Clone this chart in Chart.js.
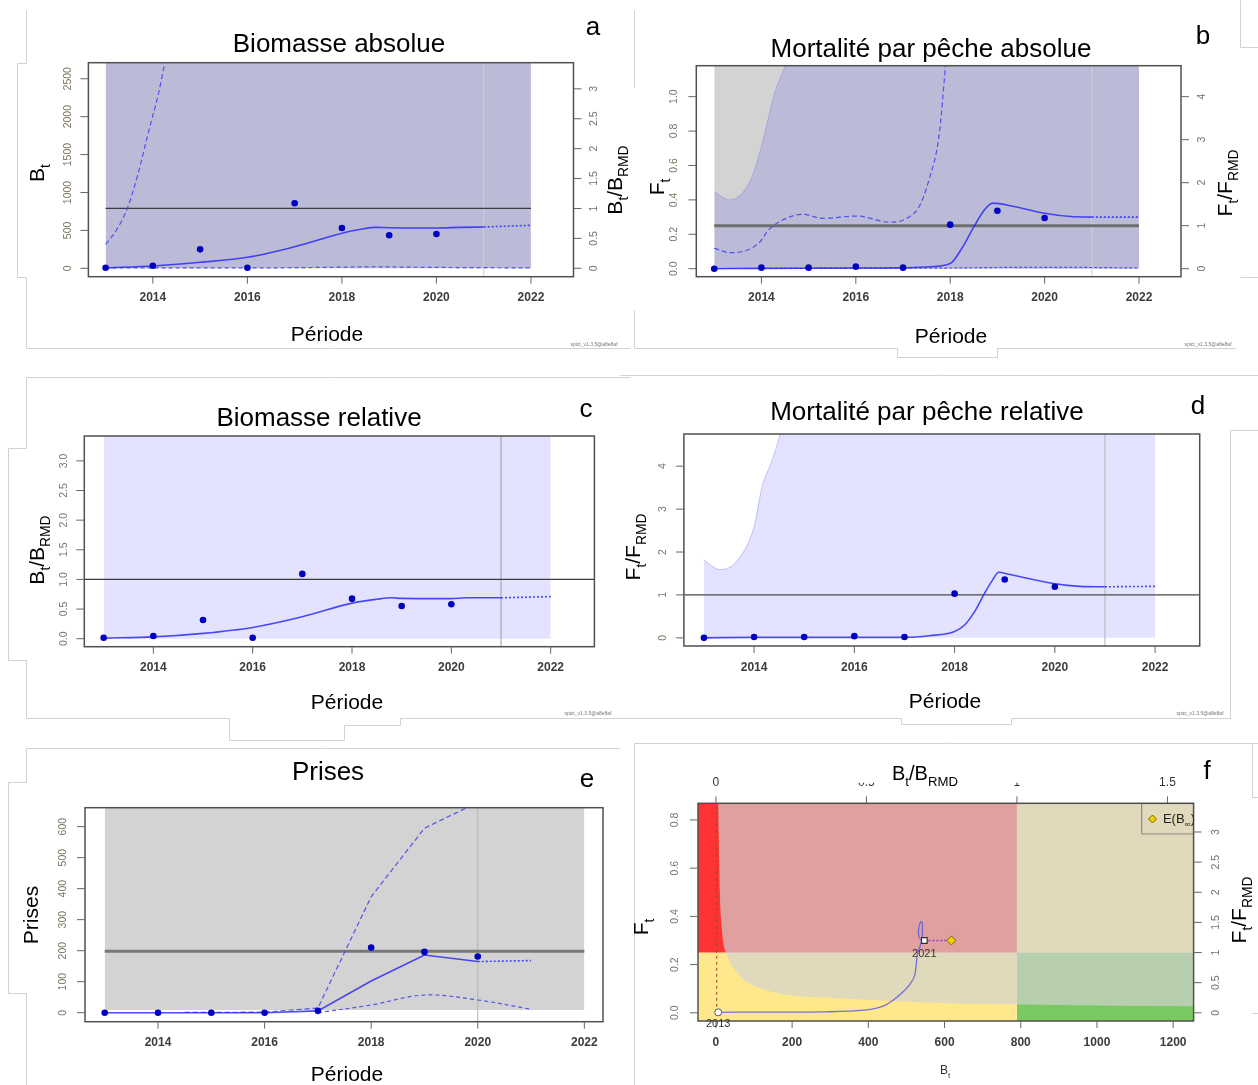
<!DOCTYPE html>
<html lang="fr"><head><meta charset="utf-8"><title>SPiCT</title>
<script src="https://cdn.jsdelivr.net/npm/chart.js@4.4.1/dist/chart.umd.min.js"></script>
<style>
html,body{margin:0;padding:0;background:#fff;}
#wrap{position:relative;width:1258px;height:1085px;overflow:hidden;background:#fff;}
#wrap canvas{position:absolute;left:0;top:0;width:1258px;height:1085px;}
</style></head>
<body><div id="wrap">
<canvas id="pa" width="1258" height="1085"></canvas>
<canvas id="pb" width="1258" height="1085"></canvas>
<canvas id="pc" width="1258" height="1085"></canvas>
<canvas id="pd" width="1258" height="1085"></canvas>
<canvas id="pe" width="1258" height="1085"></canvas>
<canvas id="pf" width="1258" height="1085"></canvas>
</div>
<script>
// ================= DATA =================
const obsYears = [2013, 2014, 2015, 2016, 2017, 2018, 2019, 2020];
const yearTicks = [2014, 2016, 2018, 2020, 2022];
const bandYears = [2013, 2022];

// a) Biomasse absolue
const bioObs = [8, 33, 250, 8, 857, 532, 435, 452];
const bioEstYears = [2013, 2014, 2015, 2016, 2017, 2018, 2018.4, 2018.7, 2019, 2020, 2020.5, 2021];
const bioEst = [8, 30, 79, 145, 285, 462, 514, 540, 535, 532, 540, 545];
const bioProjYears = [2021, 2022];
const bioProj = [545, 567];
const bioUpYears = [2013, 2013.23, 2013.46, 2013.69, 2013.9, 2014.12, 2014.25, 2014.35];
const bioUp = [316, 505, 791, 1253, 1781, 2309, 2705, 3000];
const bioLoYears = [2013, 2014, 2015, 2016, 2017, 2018, 2018.7, 2019.5, 2021, 2022];
const bioLo = [3, 5, 5, 5, 8, 15, 20, 14, 8, 5];
const bioRMD = 789;
const bioTicks = [0, 500, 1000, 1500, 2000, 2500];
const bioRelTicks = [0, 0.5, 1, 1.5, 2, 2.5, 3];

// b) Mortalité par pêche absolue
const fObs = [0.0, 0.006, 0.006, 0.012, 0.006, 0.256, 0.337, 0.295];
const fEstYears = [2013, 2014, 2015, 2016, 2017, 2017.5, 2018, 2018.25, 2018.5, 2018.72, 2018.9, 2019.35, 2020, 2020.55, 2021];
const fEst = [0.0, 0.002, 0.003, 0.004, 0.005, 0.01, 0.03, 0.12, 0.243, 0.34, 0.381, 0.362, 0.322, 0.303, 0.30];
const fProjYears = [2021, 2022];
const fProj = [0.30, 0.30];
const fUpYears = [2013, 2013.34, 2013.94, 2014.15, 2014.45, 2014.87, 2015.3, 2016.02, 2016.74, 2017.08, 2017.34, 2017.55, 2017.77, 2017.9, 2017.95];
const fUp = [0.118, 0.093, 0.147, 0.225, 0.283, 0.316, 0.293, 0.306, 0.27, 0.293, 0.36, 0.516, 0.787, 1.18, 1.35];
const fLoYears = [2013, 2016, 2018, 2019, 2020, 2021, 2022];
const fLo = [0.001, 0.002, 0.004, 0.007, 0.008, 0.007, 0.004];
const fBandYears = [2013, 2013.33, 2013.77, 2014, 2014.28, 2014.5, 2014.62, 2022];
const fBand = [0.448, 0.40, 0.515, 0.71, 1.02, 1.18, 1.3, 1.3];
const fRMD = 0.25;
const fTicks = [0, 0.2, 0.4, 0.6, 0.8, 1.0];
const fRelTicks = [0, 1, 2, 3, 4];

// c) Biomasse relative
const brObs = [0.017, 0.045, 0.316, 0.017, 1.093, 0.676, 0.552, 0.581];
const brEstYears = [2013, 2014, 2015, 2016, 2017, 2018, 2018.5, 2018.8, 2019, 2020, 2020.3, 2021];
const brEst = [0.01, 0.03, 0.09, 0.19, 0.37, 0.60, 0.665, 0.69, 0.68, 0.676, 0.69, 0.69];
const brProjYears = [2021, 2022];
const brProj = [0.69, 0.71];
const brTicks = [0, 0.5, 1, 1.5, 2, 2.5, 3];

// d) Mortalité par pêche relative
const frObs = [0.0, 0.02, 0.02, 0.04, 0.02, 1.03, 1.36, 1.19];
const frEstYears = [2013, 2014, 2015, 2016, 2017, 2017.5, 2018, 2018.2, 2018.4, 2018.6, 2018.76, 2018.88, 2019.08, 2020, 2020.5, 2021];
const frEst = [0.0, 0.01, 0.01, 0.01, 0.01, 0.05, 0.15, 0.3, 0.61, 1.04, 1.35, 1.53, 1.48, 1.26, 1.2, 1.19];
const frProjYears = [2021, 2022];
const frProj = [1.19, 1.2];
const frBandYears = [2013, 2013.32, 2013.64, 2014, 2014.16, 2014.36, 2014.52, 2014.6, 2022];
const frBand = [1.81, 1.59, 1.77, 2.59, 3.52, 4.14, 4.75, 5.2, 5.2];
const frTicks = [0, 1, 2, 3, 4];

// e) Prises
const catchObs = [0, 0, 0, 0, 6, 210, 196, 181];
const catchEstYears = [2013, 2014, 2015, 2016, 2017, 2018, 2019, 2020];
const catchEst = [0, 0, 0, 0, 6, 102, 186, 165];
const catchProjYears = [2020, 2021];
const catchProj = [165, 168];
const catchUpYears = [2014.5, 2015, 2016, 2017, 2018, 2019, 2020];
const catchUp = [1, 1, 2, 15, 374, 595, 678];
const catchLoYears = [2017, 2018, 2019, 2020, 2021];
const catchLo = [0, 25, 57, 41, 11];
const catchRMD = 198;
const catchBandLow = 9;
const catchTicks = [0, 100, 200, 300, 400, 500, 600];

// f) Kobe
const kobeBTicks = [0, 200, 400, 600, 800, 1000, 1200];
const kobeFTicks = [0, 0.2, 0.4, 0.6, 0.8];
const kobeRelBTicks = [0, 0.5, 1, 1.5];
const kobeRelFTicks = [0, 0.5, 1, 1.5, 2, 2.5, 3];
const kobeBRMD = 790;
const kobeFRMD = 0.25;
const isoB = [5, 6, 8.7, 10.5, 15.7, 19, 26, 36.7, 54, 80, 133, 194, 273, 410, 602, 795, 1000, 1260];
const isoF = [0.95, 0.87, 0.627, 0.488, 0.35, 0.295, 0.25, 0.212, 0.17, 0.129, 0.094, 0.073, 0.064, 0.053, 0.04, 0.034, 0.03, 0.027];
const trajB = [6, 100, 282, 389, 442, 485, 510, 522, 529, 540, 542, 538, 532, 534, 547];
const trajF = [0.002, 0.003, 0.004, 0.011, 0.03, 0.078, 0.12, 0.156, 0.245, 0.30, 0.37, 0.378, 0.35, 0.31, 0.30];
const trajLabels = ['2013', '2021'];
const eBinfB = 618, eBinfF = 0.30;
const b0LineB = 2;

// ================= HELPERS =================
const W = 1258, H = 1085;
const FONT = "'Liberation Sans', Arial, Helvetica, sans-serif";
const GREY = '#d3d3d3', BLUEFILL = 'rgba(0,0,255,0.11)';
const LINEC = 'rgba(45,45,245,0.85)', CIC = 'rgba(70,70,240,0.9)', PTC = '#0000c0';

function P(xs, ys) { return xs.map((x, i) => ({x: x, y: ys[i]})); }
function L(data, color, width, dash, order, extra) {
  return Object.assign({data, borderColor: color, borderWidth: width, borderDash: dash || [], backgroundColor: color,
    pointRadius: 0, pointHoverRadius: 0, fill: false, tension: 0, order}, extra || {});
}
const SMOOTH = {cubicInterpolationMode: 'monotone'};
function FL(data, color, target, order, extra) {
  return Object.assign({data, borderWidth: 0, borderColor: 'rgba(0,0,0,0)', backgroundColor: color, fill: target,
    pointRadius: 0, pointHoverRadius: 0, tension: 0, order}, extra || {});
}
function DOTS(data, order) {
  return {data, showLine: false, pointRadius: 3.3, pointHoverRadius: 3.3, pointBackgroundColor: PTC,
    pointBorderColor: PTC, pointBorderWidth: 0, borderColor: PTC, backgroundColor: PTC, fill: false, order};
}
function txt(ctx, s, x, y, font, color, align, rot) {
  ctx.save(); ctx.translate(x, y); if (rot) ctx.rotate(rot);
  ctx.font = font; ctx.fillStyle = color; ctx.textAlign = align || 'center'; ctx.textBaseline = 'middle';
  ctx.fillText(s, 0, 0); ctx.restore();
}
function rich(ctx, parts, x, y, size, rot, color) {
  ctx.save(); ctx.translate(x, y); if (rot) ctx.rotate(rot);
  ctx.fillStyle = color || '#000'; ctx.textBaseline = 'alphabetic'; ctx.textAlign = 'left';
  const sub = size * 0.66;
  const ws = parts.map(p => { ctx.font = (p[1] ? sub : size) + 'px ' + FONT; return ctx.measureText(p[0]).width; });
  let cx = -ws.reduce((a, b) => a + b, 0) / 2;
  parts.forEach((p, i) => {
    ctx.font = (p[1] ? sub : size) + 'px ' + FONT;
    ctx.fillText(p[0], cx, size * 0.36 + (p[1] ? size * 0.3 : 0));
    cx += ws[i];
  });
  ctx.restore();
}
const ROT = -Math.PI / 2;

const frameLines = [
  [[26,10],[26,63],[17,63],[17,277],[26,277],[26,348],[630,348]],
  [[634,10],[634,87]],
  [[634,310],[634,348],[897,348],[897,357],[997,357],[997,348],[1236,348]],
  [[1240,0],[1240,47],[1258,47]],
  [[1240,277],[1258,277]],
  [[26,377],[630,377]],
  [[26,377],[26,448],[8,448],[8,660],[26,660],[26,718],[229,718],[229,740],[344,740],[344,725],[400,725],[400,718],[630,718]],
  [[620,375],[1258,375]],
  [[1230,430],[1258,430]], [[1230,430],[1230,718]],
  [[620,718],[901,718],[901,724],[1011,724],[1011,718],[1230,718]],
  [[26,748],[620,748]],
  [[26,748],[26,782],[8,782],[8,993],[26,993],[26,1085]],
  [[634,743],[1258,743]], [[634,743],[634,1085]],
  [[1252,743],[1252,797],[1258,797]], [[1252,1013],[1258,1013]]
];

function drawFrame(chart, s) {
  const ctx = chart.ctx, a = chart.chartArea, sx = chart.scales.x, sy = chart.scales.y;
  ctx.save();
  ctx.strokeStyle = '#505050'; ctx.lineWidth = 1.5;
  ctx.strokeRect(a.left, a.top, a.right - a.left, a.bottom - a.top);
  ctx.strokeStyle = '#666'; ctx.lineWidth = 1;
  const seg = (x1, y1, x2, y2) => { ctx.beginPath(); ctx.moveTo(x1, y1); ctx.lineTo(x2, y2); ctx.stroke(); };
  s.xTicks.forEach(v => {
    const px = sx.getPixelForValue(v);
    seg(px, a.bottom, px, a.bottom + 7);
    txt(ctx, String(v), px, s.xTickY, 'bold 12px ' + FONT, '#3c3c3c');
  });
  s.yTicks.forEach(v => {
    const py = sy.getPixelForValue(v);
    seg(a.left - 8, py, a.left, py);
    txt(ctx, s.yFmt(v), s.yTickX, py, '10.5px ' + FONT, '#7d7465', 'center', ROT);
  });
  if (s.y2Ticks) {
    const s2 = chart.scales.y2;
    s.y2Ticks.forEach(v => {
      const py = s2.getPixelForValue(v);
      seg(a.right, py, a.right + 8, py);
      txt(ctx, String(v), s.y2TickX, py, '10.5px ' + FONT, '#707070', 'center', ROT);
    });
  }
  if (s.x2Ticks) {
    const s2 = chart.scales.x2;
    s.x2Ticks.forEach(v => {
      const px = s2.getPixelForValue(v);
      seg(px, a.top, px, a.top - 7);
      ctx.save();
      if (v === 0.5 || v === 1) { ctx.beginPath(); ctx.rect(px - 20, 782.8, 40, 12); ctx.clip(); }
      txt(ctx, String(v), px, s.x2TickY, '12px ' + FONT, '#333');
      ctx.restore();
    });
  }
  ctx.restore();
}
function drawText(chart, s) {
  const ctx = chart.ctx;
  if (s.title) txt(ctx, s.title[0], s.title[1], s.title[2], '26px ' + FONT, '#000');
  if (s.letter) txt(ctx, s.letter[0], s.letter[1], s.letter[2], '26px ' + FONT, '#000');
  if (s.xlab) txt(ctx, s.xlab[0], s.xlab[1], s.xlab[2], '21px ' + FONT, '#000');
  if (s.ylab) rich(ctx, s.ylab.parts, s.ylab.x, s.ylab.y, s.ylab.size || 21, s.ylab.rot === 0 ? 0 : ROT, '#000');
  if (s.y2lab) rich(ctx, s.y2lab.parts, s.y2lab.x, s.y2lab.y, 21, ROT, '#000');
  if (s.extra) s.extra(chart);
  if (s.mark) txt(ctx, 'spict_v1.3.5@a8e8af', s.mark[0], s.mark[1], '5px ' + FONT, '#777');
}

function makeChart(id, box, lim, spec, datasets) {
  const scales = {
    x: {type: 'linear', min: lim.x[0], max: lim.x[1], display: false},
    y: {type: 'linear', min: lim.y[0], max: lim.y[1], display: false}
  };
  if (spec.y2ref) scales.y2 = {type: 'linear', position: 'right', min: lim.y[0] / spec.y2ref, max: lim.y[1] / spec.y2ref, display: false};
  if (spec.x2ref) scales.x2 = {type: 'linear', position: 'top', min: lim.x[0] / spec.x2ref, max: lim.x[1] / spec.x2ref, display: false};
  return new Chart(document.getElementById(id), {
    type: 'line',
    data: {datasets},
    options: {
      responsive: false, animation: false, events: [],
      layout: {padding: {left: box.l, top: box.t, right: W - box.r, bottom: H - box.b}},
      scales,
      plugins: {legend: {display: false}, tooltip: {enabled: false}, title: {display: false}}
    },
    plugins: [{
      id: 'decor_' + id,
      beforeDraw(chart) { if (spec.before) spec.before(chart); },
      afterDatasetsDraw(chart) { drawFrame(chart, spec); },
      afterDraw(chart) { drawText(chart, spec); }
    }]
  });
}

// ================= PANEL A =================
const boxA = {l: 88.4, t: 62.7, r: 573.5, b: 276.7};
const limA = {x: [2012.636, 2022.9], y: [-111, 2712]};
makeChart('pa', boxA, limA, {
  before(chart) {
    const ctx = chart.ctx; ctx.save(); ctx.strokeStyle = '#d2d2d2'; ctx.lineWidth = 1;
    frameLines.forEach(pl => { ctx.beginPath(); pl.forEach((p, i) => { const x = p[0] + 0.5, y = p[1] + 0.5; i ? ctx.lineTo(x, y) : ctx.moveTo(x, y); }); ctx.stroke(); });
    ctx.restore();
  },
  title: ['Biomasse absolue', 339, 45], letter: ['a', 593, 28], xlab: ['Période', 327, 335],
  ylab: {parts: [['B', 0], ['t', 1]], x: 36, y: 173},
  y2lab: {parts: [['B', 0], ['t', 1], ['/B', 0], ['RMD', 1]], x: 614, y: 180},
  xTicks: yearTicks, xTickY: 298, yTicks: bioTicks, yFmt: v => String(v), yTickX: 68,
  y2ref: bioRMD, y2Ticks: bioRelTicks, y2TickX: 594, mark: [594, 345]
}, [
  DOTS(P(obsYears, bioObs), 0),
  L(P(bioEstYears, bioEst), LINEC, 1.6, [], 2, SMOOTH),
  L(P(bioProjYears, bioProj), LINEC, 1.6, [2, 2], 3, SMOOTH),
  L(P(bioUpYears, bioUp), CIC, 1.2, [5, 3], 4, SMOOTH),
  L(P(bioLoYears, bioLo), CIC, 1.2, [4, 3], 5, SMOOTH),
  L(P([2013, 2022], [bioRMD, bioRMD]), '#3a3a3a', 1.3, [], 8),
  L(P([2021, 2021], limA.y), '#cfcfd8', 1, [], 9),
  FL(P(bandYears, [limA.y[1], limA.y[1]]), BLUEFILL, 'origin', 18),
  FL(P(bandYears, [limA.y[1], limA.y[1]]), GREY, 'origin', 19)
]);

// ================= PANEL B =================
const boxB = {l: 696.3, t: 65.7, r: 1181, b: 276.7};
const limB = {x: [2012.62, 2022.89], y: [-0.0465, 1.18]};
makeChart('pb', boxB, limB, {
  title: ['Mortalité par pêche absolue', 931, 50], letter: ['b', 1203, 37], xlab: ['Période', 951, 337],
  ylab: {parts: [['F', 0], ['t', 1]], x: 656, y: 187},
  y2lab: {parts: [['F', 0], ['t', 1], ['/F', 0], ['RMD', 1]], x: 1224, y: 183},
  xTicks: yearTicks, xTickY: 298, yTicks: fTicks, yFmt: v => v.toFixed(1), yTickX: 674,
  y2ref: fRMD, y2Ticks: fRelTicks, y2TickX: 1202, mark: [1208, 345]
}, [
  DOTS(P(obsYears, fObs), 0),
  L(P(fEstYears, fEst), LINEC, 1.6, [], 2, SMOOTH),
  L(P(fProjYears, fProj), LINEC, 1.6, [2, 2], 3),
  L(P(fUpYears, fUp), CIC, 1.2, [5, 3], 4, SMOOTH),
  L(P(fLoYears, fLo), CIC, 1.2, [3, 2], 5, SMOOTH),
  L(P([2013, 2022], [fRMD, fRMD]), '#6e6e6e', 3, [], 8),
  L(P([2021, 2021], limB.y), '#cfcfd8', 1, [], 9),
  FL(P(fBandYears, fBand), BLUEFILL, 'origin', 18, Object.assign({borderWidth: 1, borderColor: 'rgba(110,110,230,0.35)'}, SMOOTH)),
  FL(P(bandYears, [limB.y[1], limB.y[1]]), GREY, 'origin', 19)
]);

// ================= PANEL C =================
const boxC = {l: 84.3, t: 436, r: 594.4, b: 646.7};
const limC = {x: [2012.61, 2022.88], y: [-0.135, 3.42]};
makeChart('pc', boxC, limC, {
  title: ['Biomasse relative', 319, 419], letter: ['c', 586, 410], xlab: ['Période', 347, 703],
  ylab: {parts: [['B', 0], ['t', 1], ['/B', 0], ['RMD', 1]], x: 36, y: 550},
  xTicks: yearTicks, xTickY: 668, yTicks: brTicks, yFmt: v => v.toFixed(1), yTickX: 64, mark: [588, 714]
}, [
  DOTS(P(obsYears, brObs), 0),
  L(P(brEstYears, brEst), LINEC, 1.6, [], 2, SMOOTH),
  L(P(brProjYears, brProj), LINEC, 1.6, [2, 2], 3),
  L(P(limC.x, [1, 1]), '#3a3a3a', 1.3, [], 8),
  L(P([2021, 2021], limC.y), '#9a9a9a', 1, [], 9),
  FL(P(bandYears, [limC.y[1], limC.y[1]]), BLUEFILL, 'origin', 18)
]);

// ================= PANEL D =================
const boxD = {l: 683.9, t: 434, r: 1199.7, b: 646};
const limD = {x: [2012.6, 2022.89], y: [-0.19, 4.75]};
makeChart('pd', boxD, limD, {
  title: ['Mortalité par pêche relative', 927, 413], letter: ['d', 1198, 407], xlab: ['Période', 945, 702],
  ylab: {parts: [['F', 0], ['t', 1], ['/F', 0], ['RMD', 1]], x: 632, y: 547},
  xTicks: yearTicks, xTickY: 668, yTicks: frTicks, yFmt: v => String(v), yTickX: 663, mark: [1200, 714]
}, [
  DOTS(P(obsYears, frObs), 0),
  L(P(frEstYears, frEst), LINEC, 1.6, [], 2, SMOOTH),
  L(P(frProjYears, frProj), LINEC, 1.6, [2, 2], 3),
  L(P(limD.x, [1, 1]), '#4a4a4a', 1.3, [], 8),
  L(P([2021, 2021], limD.y), '#b0b0b0', 1, [], 9),
  FL(P(frBandYears, frBand), BLUEFILL, 'origin', 18, Object.assign({borderWidth: 1, borderColor: 'rgba(130,130,240,0.45)'}, SMOOTH))
]);

// ================= PANEL E =================
const boxE = {l: 85, t: 807.7, r: 603, b: 1021.7};
const limE = {x: [2012.63, 2022.35], y: [-29, 661]};
makeChart('pe', boxE, limE, {
  title: ['Prises', 328, 773], letter: ['e', 587, 780], xlab: ['Période', 347, 1075],
  ylab: {parts: [['Prises', 0]], x: 30, y: 915},
  xTicks: yearTicks, xTickY: 1043, yTicks: catchTicks, yFmt: v => String(v), yTickX: 63
}, [
  DOTS(P(obsYears, catchObs), 0),
  L(P(catchEstYears, catchEst), LINEC, 1.6, [], 2),
  L(P(catchProjYears, catchProj), LINEC, 1.6, [2, 2], 3),
  L(P(catchUpYears, catchUp), CIC, 1.2, [5, 3], 4),
  L(P(catchLoYears, catchLo), CIC, 1.2, [4, 3], 5, {tension: 0.35}),
  L(P([2013, 2022], [catchRMD, catchRMD]), '#777', 3, [], 8),
  L(P([2020, 2020], limE.y), '#b5b5b5', 1, [], 9),
  FL(P(bandYears, [limE.y[1], limE.y[1]]), GREY, {value: catchBandLow}, 19)
]);

// ================= PANEL F =================
const boxF = {l: 698, t: 803.3, r: 1193.6, b: 1021};
const limF = {x: [-47, 1253.6], y: [-0.034, 0.869]};
function diamond(ctx, x, y, r, fill, stroke) {
  ctx.save(); ctx.beginPath(); ctx.moveTo(x, y - r); ctx.lineTo(x + r, y); ctx.lineTo(x, y + r); ctx.lineTo(x - r, y); ctx.closePath();
  ctx.fillStyle = fill; ctx.fill(); ctx.strokeStyle = stroke; ctx.lineWidth = 1; ctx.stroke(); ctx.restore();
}
makeChart('pf', boxF, limF, {
  letter: ['f', 1207, 772],
  ylab: {parts: [['F', 0], ['t', 1]], x: 640, y: 927},
  y2lab: {parts: [['F', 0], ['t', 1], ['/F', 0], ['RMD', 1]], x: 1238, y: 910},
  xTicks: kobeBTicks, xTickY: 1043, yTicks: kobeFTicks, yFmt: v => v.toFixed(1), yTickX: 675,
  y2ref: kobeFRMD, y2Ticks: kobeRelFTicks, y2TickX: 1216,
  x2ref: kobeBRMD, x2Ticks: kobeRelBTicks, x2TickY: 783,
  extra(chart) {
    const ctx = chart.ctx, sx = chart.scales.x, sy = chart.scales.y;
    rich(ctx, [['B', 0], ['t', 1], ['/B', 0], ['RMD', 1]], 925, 773, 20, 0, '#000');
    rich(ctx, [['B', 0], ['t', 1]], 945, 1070, 12, 0, '#333');
    txt(ctx, trajLabels[0], sx.getPixelForValue(trajB[0]), sy.getPixelForValue(trajF[0]) + 12, '11px ' + FONT, '#333');
    txt(ctx, trajLabels[1], sx.getPixelForValue(trajB[trajB.length - 1]), sy.getPixelForValue(trajF[trajF.length - 1]) + 13, '11px ' + FONT, '#333');
    const a = chart.chartArea;
    ctx.save();
    ctx.beginPath(); ctx.rect(1141.5, a.top, a.right - 1141.5, 31); ctx.clip();
    ctx.strokeStyle = '#444'; ctx.lineWidth = 1.2;
    ctx.strokeRect(1141.5, a.top, a.right - 1141.5 + 2, 31);
    diamond(ctx, 1152.5, 819, 4, '#f0d000', '#7a6800');
    rich(ctx, [['E(B', 0], ['∞', 1], [')', 0]], 1179, 818, 13, 0, '#222');
    ctx.restore();
  }
}, [
  {data: P([trajB[trajB.length - 1]], [trajF[trajF.length - 1]]), showLine: false, pointStyle: 'rect', pointRadius: 4, pointBackgroundColor: '#fff', pointBorderColor: '#333', pointBorderWidth: 1.2, order: 0},
  {data: P([eBinfB], [eBinfF]), showLine: false, pointStyle: 'rectRot', pointRadius: 4.5, pointBackgroundColor: '#f0d000', pointBorderColor: '#7a6800', pointBorderWidth: 1, order: 0},
  {data: P([trajB[0]], [trajF[0]]), showLine: false, pointStyle: 'circle', pointRadius: 3.5, pointBackgroundColor: '#fff', pointBorderColor: '#555', pointBorderWidth: 1, order: 0},
  L(P([trajB[trajB.length - 1], eBinfB], [trajF[trajF.length - 1], eBinfF]), '#8a3fd0', 1.6, [2, 2], 1),
  L(P(trajB, trajF), 'rgba(85,85,225,0.8)', 1.3, [], 2, {tension: 0.35}),
  L(P([b0LineB, b0LineB], [0, limF.y[1]]), 'rgba(160,70,40,0.85)', 1.2, [3, 3], 6),
  FL(P(isoB, isoF), 'rgba(210,210,210,0.69)', 'end', 12, SMOOTH),
  FL(P([limF.x[0], kobeBRMD], [limF.y[1], limF.y[1]]), '#ff3333', {value: kobeFRMD}, 20),
  FL(P([limF.x[0], kobeBRMD], [kobeFRMD, kobeFRMD]), '#ffe88c', {value: limF.y[0]}, 20),
  FL(P([kobeBRMD, limF.x[1]], [limF.y[1], limF.y[1]]), '#ffe88c', {value: kobeFRMD}, 20),
  FL(P([kobeBRMD, limF.x[1]], [kobeFRMD, kobeFRMD]), '#7ac960', {value: limF.y[0]}, 20)
]);
</script>
</body></html>
